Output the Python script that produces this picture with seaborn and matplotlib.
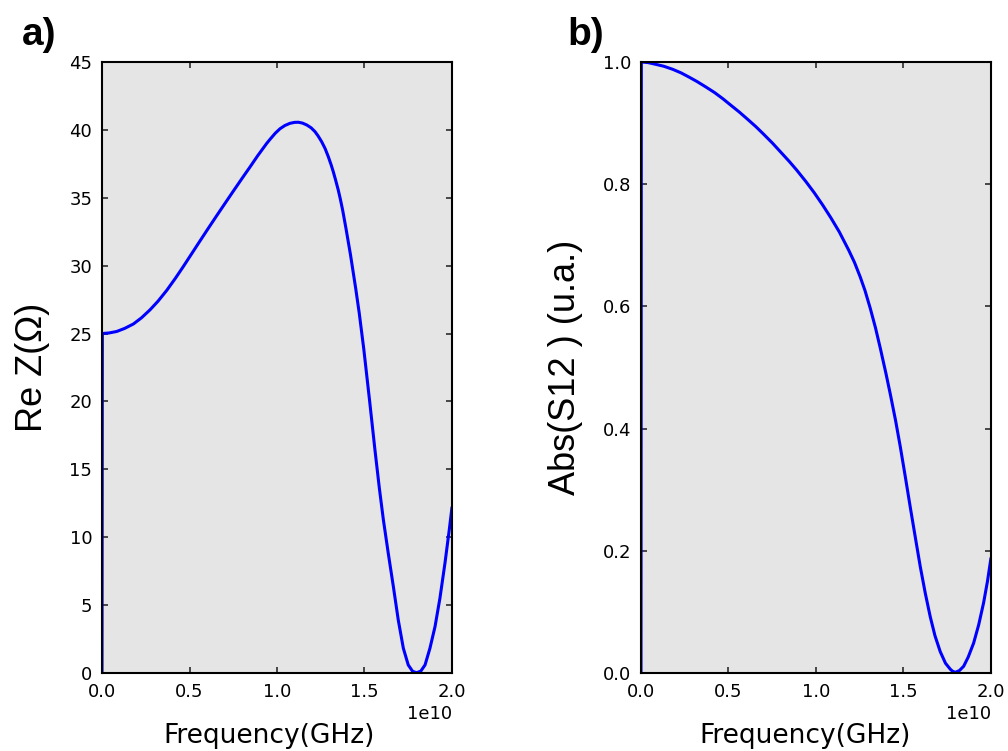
import matplotlib
matplotlib.use("Agg")
import matplotlib.pyplot as plt
import seaborn as sns
import pandas as pd

# -- Data (frequency in units of 1e10 Hz) ---------------------------------
freq_z = [0.0, 0.002, 0.04, 0.084, 0.13, 0.179, 0.225, 0.274, 0.32, 0.370,
          0.42, 0.465, 0.51, 0.560, 0.61, 0.655, 0.70, 0.750, 0.80, 0.846,
          0.89, 0.941, 0.96, 0.99, 1.017, 1.045, 1.074, 1.10, 1.122, 1.145,
          1.17, 1.195, 1.217, 1.235, 1.255, 1.275, 1.293, 1.31, 1.322, 1.335,
          1.35, 1.362, 1.375, 1.394, 1.42, 1.45, 1.47, 1.496, 1.53, 1.56,
          1.585, 1.608, 1.636, 1.665, 1.693, 1.722, 1.75, 1.775, 1.798, 1.822,
          1.846, 1.874, 1.903, 1.931, 1.96, 1.985, 2.000]
re_z = [0.0, 25.0, 25.04, 25.15, 25.38, 25.7, 26.15, 26.74, 27.38, 28.18,
        29.08, 29.94, 30.83, 31.82, 32.8, 33.67, 34.53, 35.48, 36.42, 37.27,
        38.1, 39.0, 39.3, 39.75, 40.08, 40.32, 40.48, 40.55, 40.56, 40.5,
        40.36, 40.15, 39.87, 39.55, 39.13, 38.62, 38.03, 37.4, 36.9, 36.3,
        35.57, 34.9, 34.1, 32.75, 30.8, 28.3, 26.5, 23.85, 19.95, 16.4,
        13.6, 11.27, 8.8, 6.36, 3.9, 1.82, 0.59, 0.12, 0.02, 0.14,
        0.59, 1.82, 3.41, 5.5, 8.1, 10.6, 12.2]

freq_s = [0.0, 0.002, 0.04, 0.086, 0.13, 0.181, 0.23, 0.276, 0.32, 0.371,
          0.42, 0.467, 0.51, 0.562, 0.61, 0.657, 0.70, 0.752, 0.80, 0.848,
          0.89, 0.943, 0.99, 1.038, 1.085, 1.133, 1.16, 1.187, 1.22, 1.253,
          1.28, 1.310, 1.34, 1.368, 1.40, 1.425, 1.455, 1.482, 1.51, 1.539,
          1.57, 1.596, 1.625, 1.653, 1.68, 1.710, 1.74, 1.768, 1.78, 1.796,
          1.82, 1.844, 1.87, 1.901, 1.93, 1.958, 1.98, 2.000]
abs_s12 = [0.0, 1.0, 0.999, 0.996, 0.993, 0.988, 0.982, 0.975, 0.968, 0.959,
           0.950, 0.940, 0.930, 0.918, 0.906, 0.894, 0.882, 0.867, 0.852, 0.837,
           0.823, 0.804, 0.786, 0.766, 0.745, 0.722, 0.707, 0.692, 0.672, 0.648,
           0.626, 0.597, 0.565, 0.531, 0.490, 0.456, 0.413, 0.370, 0.322, 0.271,
           0.218, 0.174, 0.130, 0.092, 0.061, 0.035, 0.016, 0.006, 0.003, 0.001,
           0.004, 0.011, 0.026, 0.049, 0.079, 0.115, 0.150, 0.188]

x_ticks = [0.0, 0.5, 1.0, 1.5, 2.0]
z_ticks = [0, 5, 10, 15, 20, 25, 30, 35, 40, 45]
s_ticks = [0.0, 0.2, 0.4, 0.6, 0.8, 1.0]

df_z = pd.DataFrame({"f": [v * 1e10 for v in freq_z], "val": re_z})
df_s = pd.DataFrame({"f": [v * 1e10 for v in freq_s], "val": abs_s12})

# -- Style ------------------------------------------------------------------
sns.set_theme(style="ticks")
plt.rcParams.update({
    "font.family": ["DejaVu Sans"],
    "text.color": "black",
    "axes.labelcolor": "black",
    "axes.facecolor": "#e5e5e5",
    "axes.edgecolor": "black",
    "axes.linewidth": 1.5,
    "xtick.direction": "in",
    "ytick.direction": "in",
    "xtick.top": True,
    "ytick.right": True,
    "xtick.major.size": 4,
    "ytick.major.size": 4,
    "xtick.color": "#333333",
    "ytick.color": "#333333",
    "xtick.labelcolor": "black",
    "ytick.labelcolor": "black",
    "xtick.labelsize": 13,
    "ytick.labelsize": 13,
    "xtick.major.pad": 7,
    "ytick.major.pad": 7,
})

fig = plt.figure(figsize=(10.08, 7.51), dpi=100)
ax1 = fig.add_axes([0.1012, 0.1039, 0.3472, 0.8136])
ax2 = fig.add_axes([0.6359, 0.1039, 0.3472, 0.8136])

label_font = {"family": ["Liberation Sans"], "size": 26, "color": "black"}

for ax, df, ticks, ylab, xlab_pos in [(ax1, df_z, z_ticks, "Re Z(Ω)", 0.477),
                                      (ax2, df_s, s_ticks, "Abs(S12 ) (u.a.)", 0.468)]:
    sns.lineplot(data=df, x="f", y="val", ax=ax, color="#0000ff", linewidth=2.2,
                 sort=False, estimator=None)
    ax.set_xlim(0, 2e10)
    ax.set_ylim(ticks[0], ticks[-1])
    ax.set_xticks([t * 1e10 for t in x_ticks])
    ax.set_yticks(ticks)
    ax.grid(False)
    ax.set_xlabel("Frequency(GHz)", fontsize=19, labelpad=16)
    ax.xaxis.label.set_x(xlab_pos)
    ax.set_ylabel(ylab, fontdict=label_font, labelpad=14)
    ax.xaxis.get_offset_text().set_fontsize(13)

ax2.set_yticklabels([f"{t:.1f}" for t in s_ticks])

fig.text(0.022, 0.94, "a)", fontsize=28, fontweight="bold", color="black",
         family=["Liberation Sans"])
fig.text(0.563, 0.94, "b)", fontsize=28, fontweight="bold", color="black",
         family=["Liberation Sans"])

fig.savefig("out.png", dpi=100)
plt.close(fig)
